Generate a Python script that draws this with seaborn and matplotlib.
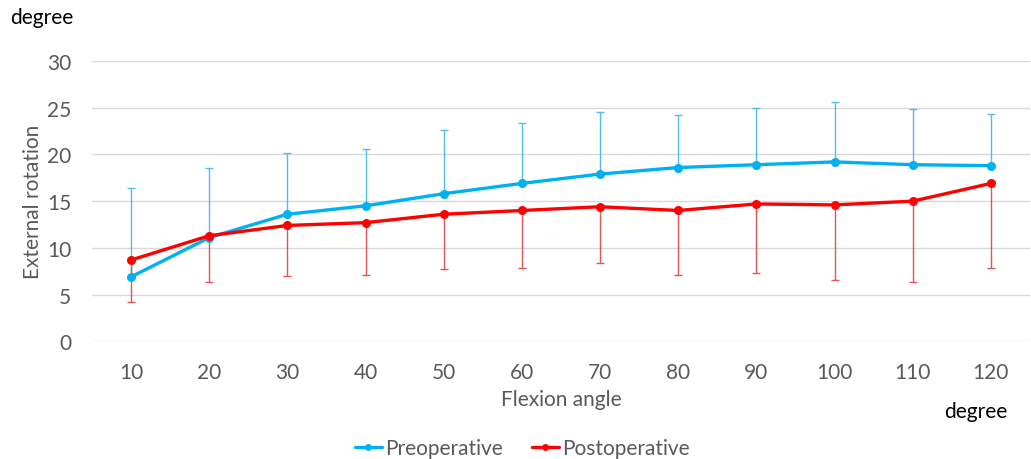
import numpy as np
import pandas as pd
import seaborn as sns
import matplotlib
matplotlib.use("Agg")
import matplotlib.pyplot as plt
from matplotlib.lines import Line2D

# Flexion angles (degrees) and mean external rotation with SD
angles = [10, 20, 30, 40, 50, 60, 70, 80, 90, 100, 110, 120]
pre_mean = [6.9, 11.1, 13.6, 14.5, 15.8, 16.9, 17.9, 18.6, 18.9, 19.2, 18.9, 18.8]
pre_sd = [9.5, 7.5, 6.6, 6.1, 6.8, 6.5, 6.6, 5.6, 6.1, 6.4, 6.0, 5.5]
post_mean = [8.7, 11.3, 12.4, 12.7, 13.6, 14.0, 14.4, 14.0, 14.7, 14.6, 15.0, 16.9]
post_sd = [4.5, 5.0, 5.4, 5.6, 5.9, 6.2, 6.0, 6.9, 7.4, 8.0, 8.6, 9.1]
groups = ["Preoperative", "Postoperative"]
y_ticks = [0, 5, 10, 15, 20, 25, 30]

line_colors = {"Preoperative": "#00B0F0", "Postoperative": "#FF0000"}
err_colors = {"Preoperative": "#4FBFEA", "Postoperative": "#E05555"}
grey = "#595959"
fs = 15

df = pd.DataFrame({
    "angle": angles * 2,
    "value": pre_mean + post_mean,
    "group": [groups[0]] * len(angles) + [groups[1]] * len(angles),
})

sns.set_theme(style="white")
plt.rcParams["font.family"] = ["Lato", "DejaVu Sans"]

fig = plt.figure(figsize=(10.31, 4.6), dpi=100)
ax = fig.add_axes([92 / 1031, 1 - 342.3 / 460, (1030 - 92) / 1031, (342.3 - 62) / 460])

# one-sided error bars: SD above for preoperative, below for postoperative
ax.errorbar(angles, pre_mean, yerr=[np.zeros(len(pre_sd)), pre_sd], fmt="none",
            ecolor=err_colors["Preoperative"], elinewidth=1.0, capsize=3,
            capthick=1.0, zorder=2)
ax.errorbar(angles, post_mean, yerr=[post_sd, np.zeros(len(post_sd))], fmt="none",
            ecolor=err_colors["Postoperative"], elinewidth=1.0, capsize=3,
            capthick=1.0, zorder=2)

sns.lineplot(data=df, x="angle", y="value", hue="group", hue_order=groups,
             palette=line_colors, marker="o", markersize=6.5, markeredgewidth=0,
             linewidth=2.4, legend=False, ax=ax, zorder=3)

ax.set_xlim(5, 125)
ax.set_ylim(0, 30)
ax.set_xticks(angles)
ax.set_xticklabels([str(a) for a in angles])
ax.set_yticks(y_ticks)
ax.set_yticklabels([str(t) for t in y_ticks])
ax.tick_params(axis="both", length=0, labelsize=fs, labelcolor=grey)
ax.tick_params(axis="x", pad=15)
ax.tick_params(axis="y", pad=15)
ax.yaxis.grid(True, color="#D9D9D9", linewidth=1.0)
ax.xaxis.grid(False)
ax.set_axisbelow(True)
for s in ax.spines.values():
    s.set_visible(False)

ax.set_xlabel("Flexion angle", fontsize=fs, color=grey, labelpad=5)
ax.set_ylabel("External rotation", fontsize=fs, color=grey, labelpad=3)

fig.text(10 / 1031, 1 - 18 / 460, "degree", fontsize=fs, color="black",
         ha="left", va="center")
fig.text(976 / 1031, 1 - 412 / 460, "degree", fontsize=fs, color="black",
         ha="center", va="center")

handles = [Line2D([0], [0], color=line_colors[g], marker="o", markersize=5,
                  markeredgewidth=0, linewidth=2.4) for g in groups]
fig.legend(handles, groups, loc="center", bbox_to_anchor=(522 / 1031, 1 - 449 / 460),
           ncol=2, frameon=False, fontsize=fs, labelcolor=grey,
           handlelength=1.3, handletextpad=0.15, columnspacing=1.4)

fig.savefig("out.png", dpi=100, facecolor="white")
